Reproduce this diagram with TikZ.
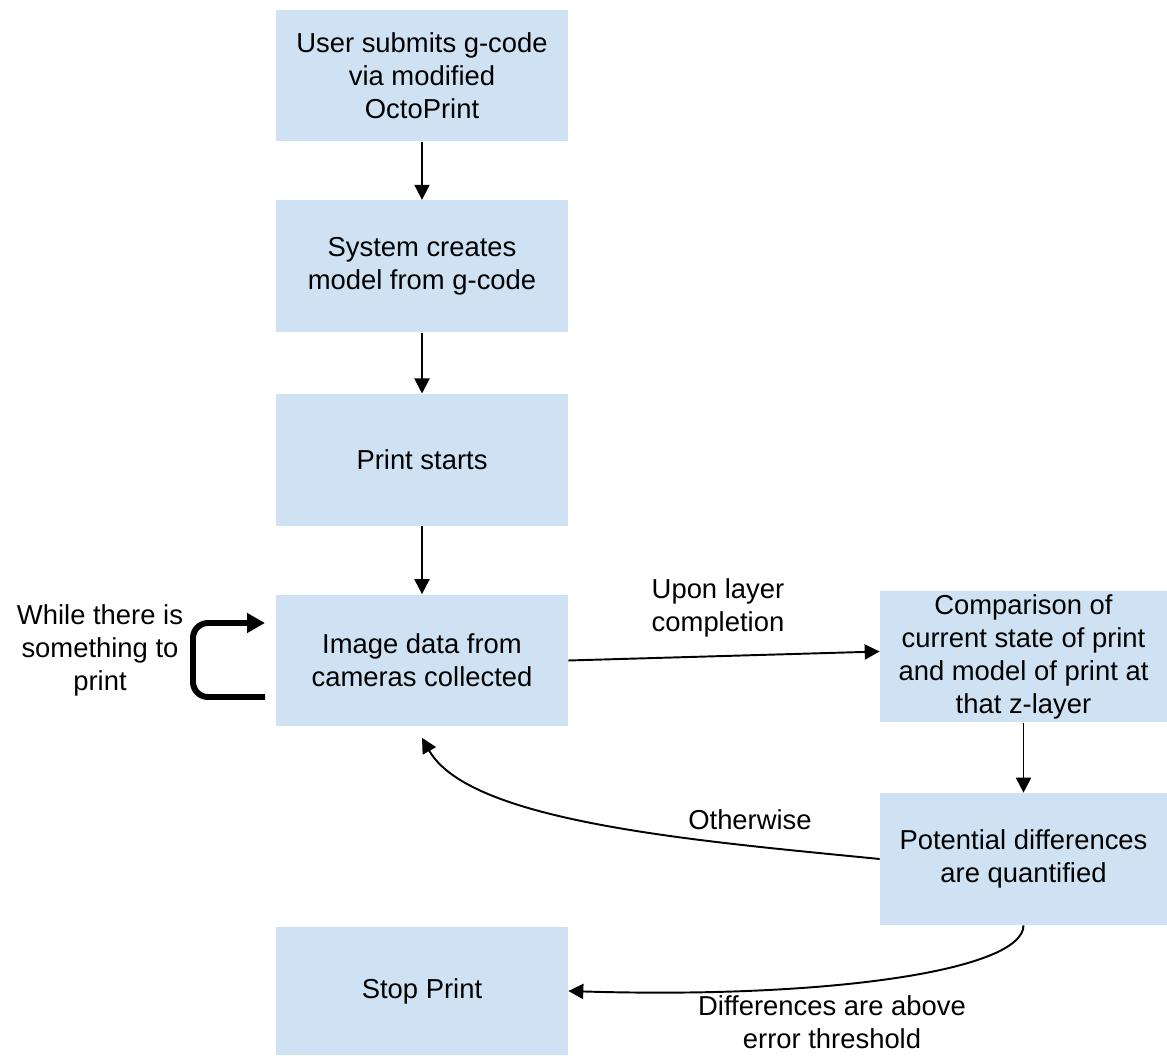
\documentclass[tikz,border=0pt]{standalone}
\usepackage{fontspec}
\setmainfont{Liberation Sans}
\usetikzlibrary{arrows.meta,positioning,shapes}
\definecolor{boxblue}{HTML}{CFE2F3}

\begin{document}
\begin{tikzpicture}[x=0.02cm,y=0.02cm]
\tikzset{box/.style ={fill=boxblue,minimum width=5.84cm,minimum height=2.64cm,
    align=center,inner sep=2pt,font=\fontsize{15.6}{18.8}\selectfont},
  note/.style ={align=center,font=\fontsize{15.6}{18.8}\selectfont},
  flow/.style ={-{Triangle[length=0.3cm,width=0.3cm]},line width=1.1pt},
  bigloop/.style ={-{Triangle[length=0.36cm,width=0.38cm]},line width=3.4pt,rounded corners=0.3cm}}
\useasboundingbox (0,0) rectangle (1167,-1058);
% main column
    \node[box] (submit) at (422,-75.5) {User submits g-code\\via modified\\OctoPrint};
    \node[box, below=1.16cm of submit] (model) {System creates\\model from g-code};
    \node[box, below=1.22cm of model] (start) {Print starts};
    \node[box, below=1.36cm of start] (image) {Image data from\\cameras collected};
    \node[box, minimum height=2.56cm] (stop) at (422,-991) {Stop Print};
% right column
    \node[box, minimum width=5.74cm, minimum height=2.42cm] (compare) at (1023.5,-656.5)
      {Comparison of\\current state of print\\and model of print at\\that z-layer};
    \node[box, minimum width=5.74cm, below=1.4cm of compare] (quant)
      {Potential differences\\are quantified};
% connectors
    \draw[flow] (submit) -- (model);
    \draw[flow] (model) -- (start);
    \draw[flow] (start) -- (image);
    \draw[flow] (image.east) -- ([yshift=0.1cm]compare.west);
    \draw[flow] (compare) -- (quant);
    \draw[flow] (quant.west) .. controls +(-180,18) and +(48,-85) .. ([yshift=-0.22cm]image.south);
    \draw[flow] (quant.south) .. controls +(0,-45) and +(260,-8) .. (stop.east);
% self loop
    \coordinate (loopout) at (265,-697);
    \coordinate (loopin) at (265,-623);
    \draw[bigloop] (loopout) -- (193,-697) -- (193,-623) -- (loopin);
% labels
    \node[note] (whilelbl) at (100,-650) {While there is\\something to\\print};
    \node[note] (uponlbl) at (718,-608) {Upon layer\\completion};
    \node[note] (otherlbl) at (750,-820) {Otherwise};
    \node[note] (difflbl) at (832,-1022) {Differences are above\\error threshold};
\end{tikzpicture}
\end{document}
